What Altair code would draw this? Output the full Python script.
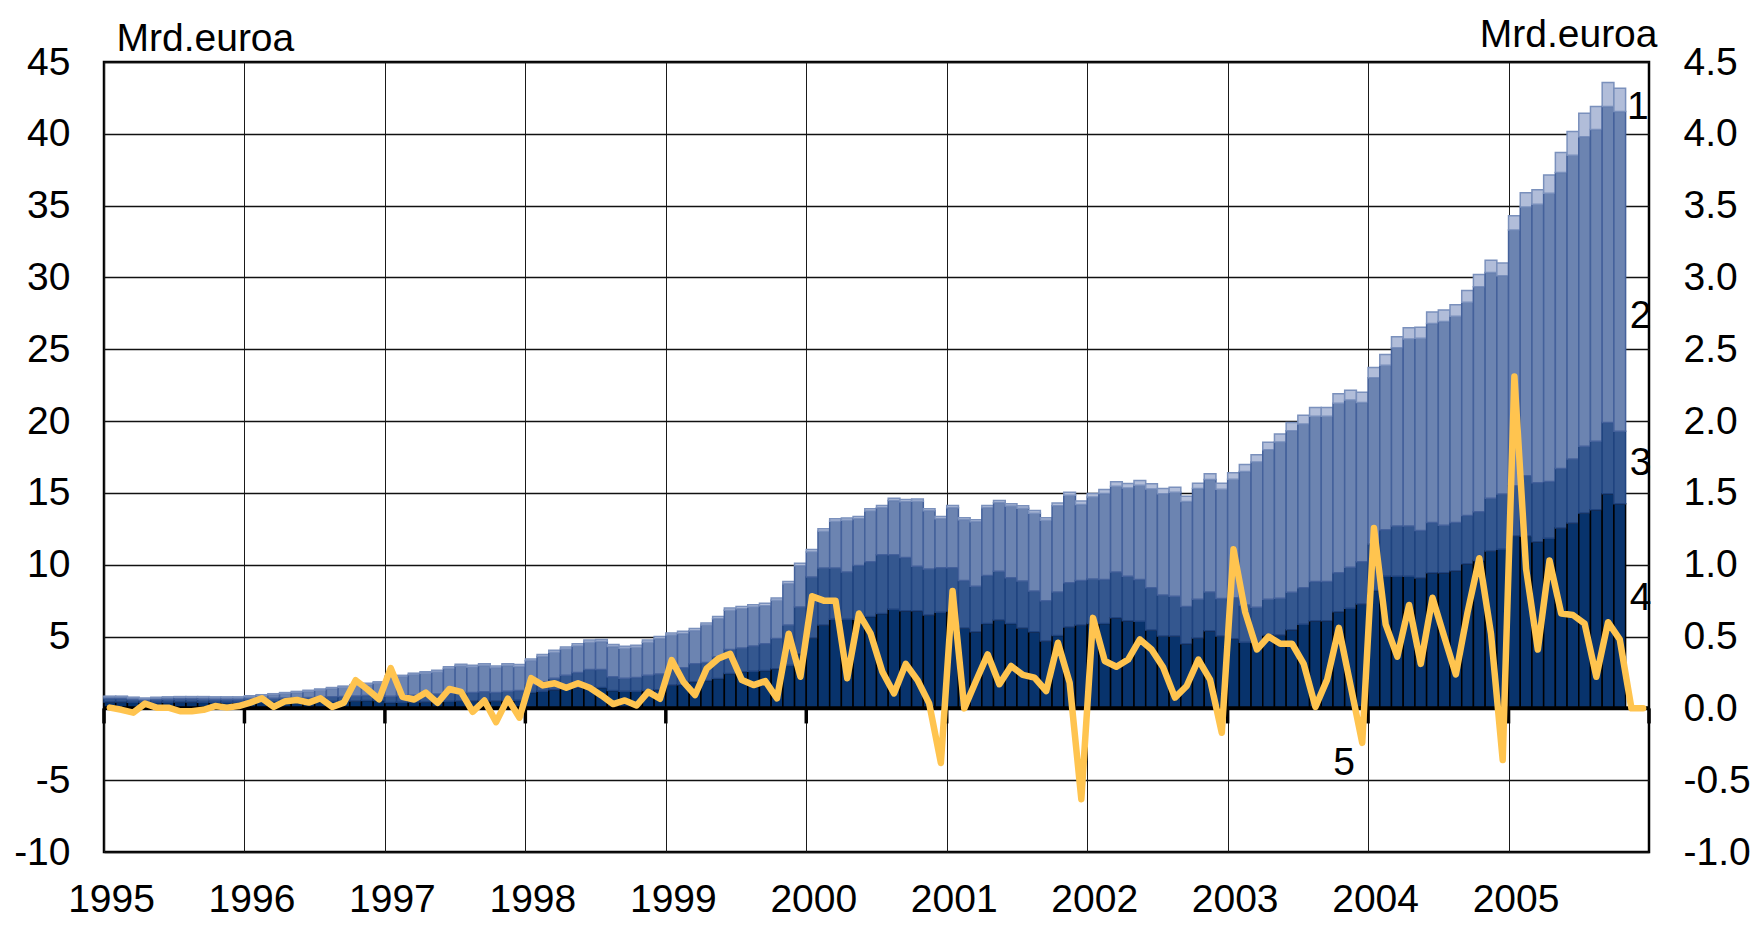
import altair as alt
import pandas as pd

# ---------------- data ----------------
years = list(range(1995, 2006))

# total height of the stacked bar (top of series 1), monthly Jan 1995 - Oct 2005
total = [
    0.85, 0.85, 0.78, 0.72, 0.78, 0.80, 0.82, 0.82, 0.82, 0.80, 0.80, 0.80,
    0.88, 0.95, 1.02, 1.10, 1.18, 1.26, 1.35, 1.45, 1.55, 1.65, 1.75, 1.85,
    2.24, 2.30, 2.45, 2.55, 2.65, 2.90, 3.07, 3.00, 3.10, 2.95, 3.10, 3.05,
    3.44, 3.75, 4.04, 4.28, 4.50, 4.76, 4.80, 4.45, 4.33, 4.40, 4.76, 5.00,
    5.25, 5.37, 5.56, 5.95, 6.39, 6.99, 7.10, 7.22, 7.31, 7.69, 8.84, 10.10,
    11.06, 12.50, 13.20, 13.26, 13.36, 13.90, 14.12, 14.63, 14.54, 14.58, 13.90, 13.35,
    14.12, 13.27, 13.13, 14.12, 14.47, 14.24, 14.10, 13.77, 13.27, 14.30, 15.05, 14.43,
    14.96, 15.24, 15.77, 15.66, 15.87, 15.63, 15.30, 15.40, 14.77, 15.68, 16.33, 15.68,
    16.40, 16.97, 17.66, 18.53, 19.10, 19.90, 20.40, 20.95, 20.95, 21.90, 22.14, 22.00,
    23.73, 24.63, 25.87, 26.50, 26.54, 27.60, 27.74, 28.10, 29.10, 30.20, 31.20, 31.00,
    34.30, 35.90, 36.10, 37.14, 38.70, 40.16, 41.44, 41.90, 43.58, 43.18,
]

# thickness of series 1 (lightest cap)
cap1 = [
    0.05, 0.05, 0.05, 0.05, 0.05, 0.05, 0.05, 0.05, 0.05, 0.05, 0.05, 0.05,
    0.06, 0.06, 0.07, 0.07, 0.07, 0.08, 0.08, 0.08, 0.08, 0.09, 0.09, 0.09,
    0.10, 0.10, 0.10, 0.11, 0.11, 0.12, 0.12, 0.12, 0.12, 0.12, 0.12, 0.13,
    0.13, 0.14, 0.14, 0.15, 0.15, 0.15, 0.15, 0.14, 0.14, 0.14, 0.15, 0.15,
    0.15, 0.15, 0.15, 0.15, 0.15, 0.16, 0.16, 0.16, 0.16, 0.16, 0.17, 0.17,
    0.17, 0.17, 0.17, 0.16, 0.16, 0.16, 0.16, 0.16, 0.16, 0.16, 0.15, 0.15,
    0.15, 0.14, 0.14, 0.15, 0.16, 0.16, 0.17, 0.18, 0.18, 0.20, 0.22, 0.24,
    0.25, 0.28, 0.30, 0.32, 0.33, 0.35, 0.35, 0.36, 0.36, 0.38, 0.40, 0.42,
    0.45, 0.48, 0.50, 0.52, 0.55, 0.57, 0.60, 0.62, 0.62, 0.65, 0.68, 0.70,
    0.72, 0.74, 0.76, 0.78, 0.78, 0.80, 0.80, 0.80, 0.82, 0.84, 0.86, 0.88,
    1.00, 1.00, 1.00, 1.28, 1.40, 1.66, 1.64, 1.60, 1.68, 1.62,
]

# top of series 3 (series 4 + series 3)
level3 = [
    0.68, 0.68, 0.62, 0.58, 0.62, 0.64, 0.65, 0.65, 0.64, 0.62, 0.62, 0.62,
    0.66, 0.68, 0.70, 0.72, 0.74, 0.76, 0.78, 0.80, 0.83, 0.86, 0.90, 0.95,
    0.85, 0.88, 0.92, 0.95, 1.00, 1.05, 1.10, 1.10, 1.15, 1.10, 1.20, 1.25,
    1.63, 1.85, 2.10, 2.30, 2.50, 2.70, 2.70, 2.20, 2.10, 2.15, 2.30, 2.40,
    2.70, 2.82, 3.10, 3.20, 3.60, 4.10, 4.20, 4.35, 4.50, 4.86, 5.80, 7.06,
    9.14, 9.77, 9.77, 9.50, 9.95, 10.20, 10.70, 10.70, 10.50, 9.90, 9.70, 9.79,
    9.79, 8.90, 8.50, 9.25, 9.55, 9.10, 8.86, 8.17, 7.50, 8.10, 8.75, 8.90,
    9.00, 8.98, 9.50, 9.20, 8.98, 8.40, 7.90, 7.80, 7.10, 7.60, 8.10, 7.65,
    7.70, 7.20, 7.04, 7.60, 7.66, 8.08, 8.40, 8.83, 8.83, 9.45, 9.83, 10.20,
    11.44, 12.44, 12.69, 12.69, 12.39, 12.94, 12.74, 12.94, 13.43, 13.68, 14.63, 14.93,
    15.50, 16.20, 15.70, 15.80, 16.70, 17.36, 18.24, 18.60, 19.90, 19.30,
]

# top of series 4 (darkest, bottom)
level4 = [
    0.45, 0.45, 0.42, 0.40, 0.42, 0.43, 0.44, 0.44, 0.43, 0.42, 0.42, 0.42,
    0.42, 0.43, 0.44, 0.45, 0.46, 0.47, 0.48, 0.50, 0.51, 0.52, 0.54, 0.55,
    0.40, 0.42, 0.44, 0.45, 0.47, 0.50, 0.52, 0.52, 0.54, 0.52, 0.55, 0.57,
    1.10, 1.20, 1.30, 1.38, 1.44, 1.48, 1.45, 1.25, 1.20, 1.20, 1.25, 1.30,
    1.62, 1.65, 1.85, 1.94, 2.08, 2.43, 2.55, 2.59, 2.64, 2.75, 3.00, 3.80,
    4.90, 5.80, 6.20, 6.20, 6.20, 6.40, 6.60, 6.90, 6.80, 6.80, 6.50, 6.70,
    6.77, 5.60, 5.34, 5.90, 6.15, 5.90, 5.60, 5.34, 4.69, 5.08, 5.66, 5.80,
    5.90, 5.90, 6.30, 6.10, 6.07, 5.45, 5.03, 5.03, 4.50, 4.90, 5.40, 5.03,
    4.85, 4.60, 4.60, 5.10, 5.10, 5.47, 5.85, 6.10, 6.10, 6.72, 6.97, 7.26,
    8.20, 9.20, 9.20, 9.20, 9.08, 9.45, 9.45, 9.58, 10.07, 10.30, 10.95, 11.07,
    12.00, 12.00, 11.60, 11.85, 12.55, 12.90, 13.60, 13.83, 14.94, 14.25,
]

# series 5 (right axis), monthly Jan 1995 - Dec 2005
flow = [
    0.005, -0.01, -0.03, 0.033, 0.005, 0.005, -0.02, -0.02, -0.01, 0.016, 0.005, 0.016,
    0.04, 0.07, 0.01, 0.05, 0.058, 0.04, 0.07, 0.01, 0.04, 0.196, 0.133, 0.063,
    0.28, 0.08, 0.062, 0.11, 0.038, 0.135, 0.115, -0.024, 0.055, -0.096, 0.067, -0.065,
    0.21, 0.16, 0.175, 0.144, 0.175, 0.144, 0.09, 0.03, 0.055, 0.02, 0.115, 0.067,
    0.336, 0.185, 0.093, 0.278, 0.347, 0.38, 0.197, 0.162, 0.19, 0.07, 0.52, 0.22,
    0.78, 0.75, 0.75, 0.21, 0.66, 0.52, 0.255, 0.104, 0.31, 0.197, 0.035, -0.38,
    0.817, 0.0, 0.19, 0.376, 0.168, 0.295, 0.233, 0.214, 0.121, 0.457, 0.179, -0.632,
    0.63, 0.33, 0.29, 0.34, 0.48, 0.41, 0.284, 0.075, 0.156, 0.34, 0.2, -0.17,
    1.107, 0.67, 0.41, 0.5, 0.45, 0.45, 0.31, 0.01, 0.2, 0.56, 0.16, -0.24,
    1.256, 0.585, 0.36, 0.72, 0.31, 0.77, 0.5, 0.236, 0.67, 1.045, 0.52, -0.36,
    2.31, 0.97, 0.41, 1.03, 0.66, 0.65, 0.59, 0.22, 0.6, 0.48, 0.0, 0.0,
]

series_names = ["1", "2", "3", "4"]
left_ticks = [-10, -5, 0, 5, 10, 15, 20, 25, 30, 35, 40, 45]
right_ticks = [-1.0, -0.5, 0.0, 0.5, 1.0, 1.5, 2.0, 2.5, 3.0, 3.5, 4.0, 4.5]

ann_text = ["1", "2", "3", "4", "5"]
ann_year = [2005.92, 2005.94, 2005.94, 2005.94, 2003.83]
ann_value = [41.9, 27.3, 17.1, 7.66, -3.8]

# ---------------- tables ----------------
rows = []
for i in range(len(total)):
    x0 = 1995 + i / 12
    x1 = x0 + 1 / 12
    l4 = level4[i]
    l3 = level3[i]
    l2 = total[i] - cap1[i]
    l1 = total[i]
    rows.append({"s": "4", "x0": x0, "x1": x1, "lo": 0.0, "hi": l4})
    rows.append({"s": "3", "x0": x0, "x1": x1, "lo": l4, "hi": l3})
    rows.append({"s": "2", "x0": x0, "x1": x1, "lo": l3, "hi": l2})
    rows.append({"s": "1", "x0": x0, "x1": x1, "lo": l2, "hi": l1})
bars_df = pd.DataFrame(rows)

line_df = pd.DataFrame({
    "xm": [1995 + (i + 0.5) / 12 for i in range(len(flow))],
    "v": flow,
})
tick_df = pd.DataFrame({"yr": years + [2006]})
zero_df = pd.DataFrame({"z": [0.0]})
ann_df = pd.DataFrame({"t": ann_text, "x": ann_year, "y": ann_value})

FONT = "Liberation Sans"
FS = 39

xscale = alt.Scale(domain=[1995, 2006], nice=False, zero=False)
yleft = alt.Scale(domain=[-10, 45], nice=False, zero=False)
yright = alt.Scale(domain=[-1.0, 4.5], nice=False, zero=False)

x_axis = alt.Axis(values=years, format="d", grid=True, gridColor="#1a1a1a",
                  gridWidth=1, ticks=False, tickSize=0, domain=False,
                  labelFont=FONT, labelFontSize=FS, labelColor="black",
                  labelFlush=False, labelOverlap=False,
                  labelPadding=28, labelOffset=7, title=None)
left_axis = alt.Axis(values=left_ticks, grid=True, gridColor="#111111", gridWidth=1.3,
                     ticks=False, tickSize=0, domain=False,
                     labelFont=FONT, labelFontSize=FS, labelColor="black",
                     labelPadding=34, labelFlush=False,
                     labelExpr="datum.value == 0 ? '' : (datum.value < 0 ? '-' : '') + format(abs(datum.value), 'd')",
                     title="Mrd.euroa", titleAngle=0, titleAlign="left",
                     titleBaseline="alphabetic", titleX=12, titleY=-12,
                     titleFont=FONT, titleFontSize=FS, titleFontWeight="normal",
                     titleColor="black")
right_axis = alt.Axis(orient="right", values=right_ticks, grid=False,
                      ticks=False, tickSize=0, domain=False,
                      labelFont=FONT, labelFontSize=FS, labelColor="black",
                      labelPadding=34, labelFlush=False,
                      labelExpr="(datum.value < 0 ? '-' : '') + format(abs(datum.value), '.1f')",
                      title="Mrd.euroa", titleAngle=0, titleAlign="right",
                      titleBaseline="alphabetic", titleX=8, titleY=-16,
                      titleFont=FONT, titleFontSize=FS, titleFontWeight="normal",
                      titleColor="black")

fills = ["#B1BDD9", "#6C84B1", "#34578F", "#08336C"]
strokes = ["#7A90BC", "#44619B", "#1F437F", "#000000"]

bars = alt.Chart(bars_df).mark_bar(strokeWidth=1.5).encode(
    x=alt.X("x0:Q", scale=xscale, axis=x_axis),
    x2="x1:Q",
    y=alt.Y("lo:Q", scale=yleft, axis=left_axis),
    y2="hi:Q",
    color=alt.Color("s:N", scale=alt.Scale(domain=series_names, range=fills), legend=None),
    stroke=alt.Stroke("s:N", scale=alt.Scale(domain=series_names, range=strokes), legend=None),
)

zero_line = alt.Chart(zero_df).mark_rule(color="black", strokeWidth=4).encode(
    y=alt.Y("z:Q", scale=yleft, axis=left_axis)
)

year_ticks = alt.Chart(tick_df).mark_rule(color="black", strokeWidth=3.5).encode(
    x=alt.X("yr:Q", scale=xscale, axis=x_axis),
    y=alt.datum(0, scale=yleft, axis=left_axis),
    y2=alt.datum(-1.05),
)

ann = alt.Chart(ann_df).mark_text(font=FONT, fontSize=FS, color="black",
                                   align="center", baseline="middle").encode(
    x=alt.X("x:Q", scale=xscale, axis=x_axis),
    y=alt.Y("y:Q", scale=yleft, axis=left_axis),
    text="t:N",
)

left = alt.layer(bars, zero_line, year_ticks, ann)

line = alt.Chart(line_df).mark_line(color="#FFC44F", strokeWidth=6.5,
                                    strokeJoin="round", strokeCap="round").encode(
    x=alt.X("xm:Q", scale=xscale, axis=x_axis),
    y=alt.Y("v:Q", scale=yright, axis=right_axis),
)

chart = alt.layer(left, line).resolve_scale(y="independent").properties(
    width=1545,
    height=790,
    padding={"left": 96, "top": 54, "right": 102, "bottom": 72},
    autosize=alt.AutoSizeParams(type="none"),
    background="white",
).configure_view(stroke="black", strokeWidth=2.5)

chart.save("out.html", embed_options={"renderer": "svg", "actions": False})
